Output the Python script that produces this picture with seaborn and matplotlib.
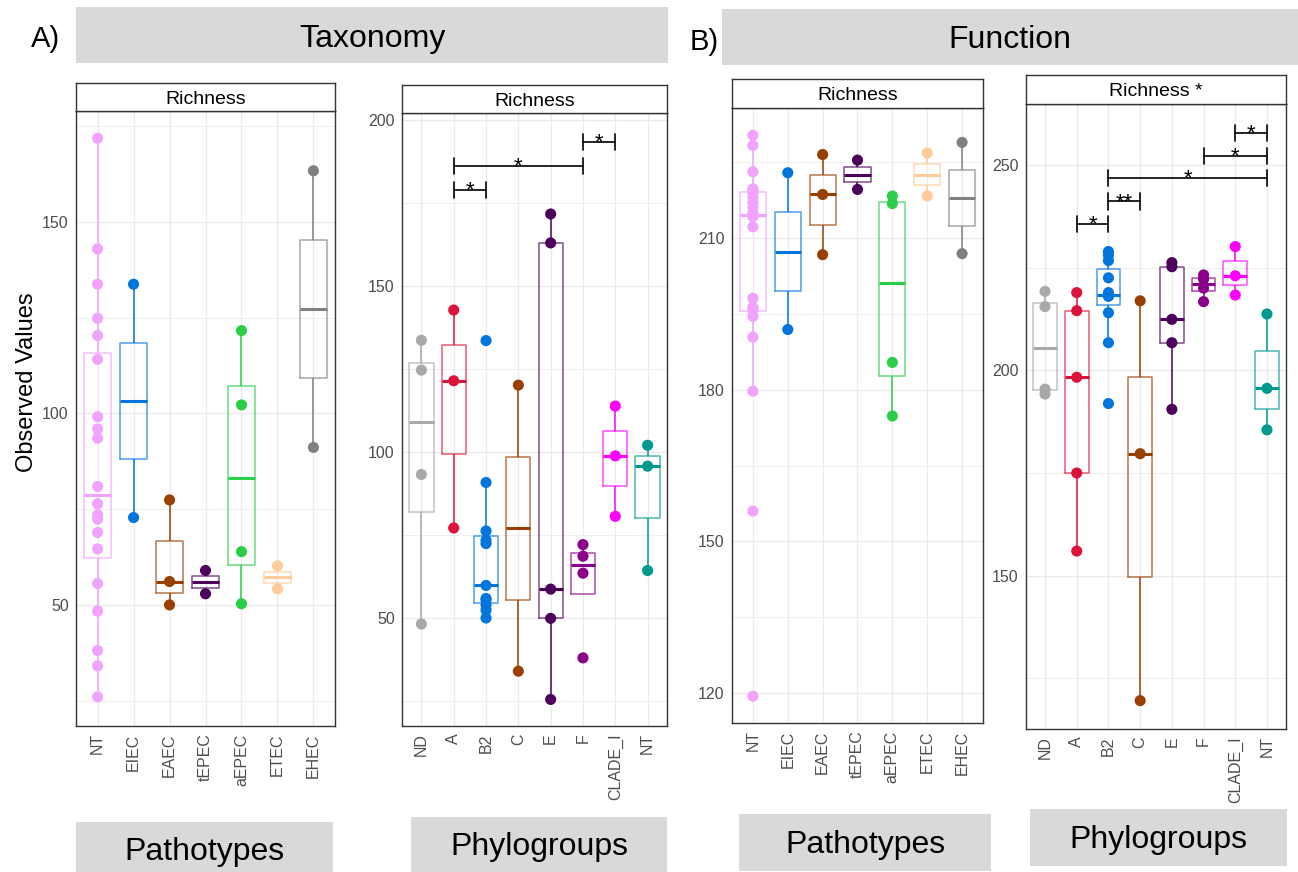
import matplotlib
matplotlib.use("Agg")
import matplotlib.pyplot as plt
from matplotlib.patches import Rectangle
import pandas as pd
import seaborn as sns

W, H = 1298, 872

# ---------------------------------------------------------------- categories
pathotypes = ["NT", "EIEC", "EAEC", "tEPEC", "aEPEC", "ETEC", "EHEC"]
phylogroups = ["ND", "A", "B2", "C", "E", "F", "CLADE_I", "NT"]

pathotype_colors = ["#F0A3FF", "#0075DC", "#993F00", "#4C005C",
                    "#2BCE48", "#FFCC99", "#808080"]
phylogroup_colors = ["#A9A9A9", "#DC143C", "#0075DC", "#993F00",
                     "#4C005C", "#8B008B", "#FF00FF", "#00998F"]

# ---------------------------------------------------------------- richness
tax_pathotype_richness = {
    "NT": [26.0, 34.1, 38.1, 48.4, 55.6, 64.6, 68.9, 72.4, 73.5, 76.4,
           80.9, 93.5, 95.9, 99.1, 114.1, 120.3, 124.8, 133.7, 142.9, 171.8],
    "EIEC": [72.8, 103.2, 133.7],
    "EAEC": [50.0, 56.1, 77.4],
    "tEPEC": [52.9, 59.0],
    "aEPEC": [50.3, 63.9, 102.2, 121.6],
    "ETEC": [54.2, 60.2],
    "EHEC": [91.1, 127.2, 163.3],
}
tax_phylogroup_richness = {
    "ND": [48.3, 93.3, 124.7, 133.7],
    "A": [77.2, 121.5, 142.8],
    "B2": [50.1, 52.5, 54.0, 55.5, 56.0, 59.9, 72.5, 73.5, 76.3, 90.9, 133.6],
    "C": [34.1, 77.2, 120.2],
    "E": [25.6, 50.0, 58.8, 163.0, 171.7],
    "F": [38.1, 63.6, 68.7, 72.2],
    "CLADE_I": [80.7, 98.9, 113.9],
    "NT": [64.4, 95.8, 102.1],
}
func_pathotype_richness = {
    "NT": [119.4, 156.0, 179.7, 190.4, 194.5, 195.8, 196.3, 198.1, 212.2, 214.2,
           215.0, 216.0, 217.0, 218.0, 218.9, 219.4, 219.7, 223.1, 228.3, 230.3],
    "EIEC": [191.9, 207.2, 222.9],
    "EAEC": [206.7, 218.6, 226.5],
    "tEPEC": [219.6, 225.4],
    "aEPEC": [174.8, 185.4, 216.8, 218.3],
    "ETEC": [218.3, 226.8],
    "EHEC": [206.9, 217.9, 228.9],
}
func_phylogroup_richness = {
    "ND": [194.2, 195.4, 215.5, 219.2],
    "A": [156.0, 175.0, 198.3, 214.5, 218.9],
    "B2": [191.9, 206.7, 214.0, 218.0, 218.1, 218.3, 218.9, 222.5, 226.7, 228.0, 228.9],
    "C": [119.6, 179.7, 216.9],
    "E": [190.5, 206.7, 212.4, 225.2, 226.2],
    "F": [216.7, 220.0, 222.2, 223.2],
    "CLADE_I": [218.3, 223.0, 230.1],
    "NT": [185.5, 195.6, 213.7],
}

# isolates that enter the box statistics but carry no point marker
tax_pathotype_unmarked = {"EIEC": [103.2], "EHEC": [127.2]}
tax_phylogroup_unmarked = {"C": [77.2]}
func_pathotype_unmarked = {"EIEC": [207.2], "EHEC": [217.9]}
func_phylogroup_unmarked = {}

# pairwise tests: (group 1, group 2, bracket height, significance)
tax_phylogroup_tests = [("A", "B2", 178.9, "*"),
                        ("A", "F", 186.2, "*"),
                        ("F", "CLADE_I", 193.5, "*")]
func_phylogroup_tests = [("A", "B2", 235.6, "*"),
                         ("B2", "C", 241.1, "**"),
                         ("B2", "NT", 246.8, "*"),
                         ("F", "NT", 252.2, "*"),
                         ("CLADE_I", "NT", 257.7, "*")]

# ---------------------------------------------------------------- style
sns.set_style("white")
plt.rcParams["font.family"] = ["Liberation Sans", "DejaVu Sans"]
plt.rcParams["text.color"] = "black"

fig = plt.figure(figsize=(W / 100, H / 100), dpi=100)


def frac_rect(x0, y0, x1, y1):
    return [x0 / W, 1 - y1 / H, (x1 - x0) / W, (y1 - y0) / H]


def long_table(values, skip=None):
    rows = []
    for grp, vals in values.items():
        hidden = list((skip or {}).get(grp, []))
        for v in vals:
            if v in hidden:
                hidden.remove(v)
                continue
            rows.append((grp, v))
    return pd.DataFrame(rows, columns=["group", "richness"])


def draw_panel(rect, strip_top, cats, colors, values, unmarked, ylim,
               major, minor, strip_label, tests=None):
    x0, y0, x1, y1 = rect
    ax = fig.add_axes(frac_rect(x0, y0, x1, y1))
    pal = dict(zip(cats, colors))

    sns.boxplot(data=long_table(values), x="group", y="richness", hue="group",
                order=cats, hue_order=cats, palette=pal, saturation=1,
                fill=False, width=0.75, linewidth=1.1, whis=1.5,
                showfliers=False, showcaps=False, legend=False, ax=ax,
                boxprops=dict(alpha=0.7), medianprops=dict(linewidth=2.2))
    sns.stripplot(data=long_table(values, unmarked), x="group", y="richness",
                  hue="group", order=cats, hue_order=cats, palette=pal,
                  jitter=False, size=8.0, linewidth=0, legend=False, ax=ax,
                  zorder=4)

    ax.set_xlim(-0.6, len(cats) - 0.4)
    ax.set_ylim(*ylim)
    ax.set_yticks(major)
    ax.set_yticks(minor, minor=True)
    ax.set_xticks(range(len(cats)))
    ax.set_xticklabels(cats, rotation=90, va="top", ha="center")
    ax.grid(True, which="major", color="#EBEBEB", linewidth=1.0)
    ax.grid(True, which="minor", axis="y", color="#EBEBEB", linewidth=0.6)
    ax.set_axisbelow(True)
    ax.tick_params(axis="both", which="major", length=2.8, width=0.8,
                   color="#333333", labelcolor="#4D4D4D", labelsize=11.5,
                   pad=2.5)
    ax.tick_params(which="minor", length=0)
    ax.set_xlabel("")
    ax.set_ylabel("")
    for sp in ax.spines.values():
        sp.set_visible(True)
        sp.set_color("#333333")
        sp.set_linewidth(1.0)

    if tests:
        tip = 0.013 * (ylim[1] - ylim[0])
        for g1, g2, y, lab in tests:
            i1, i2 = cats.index(g1), cats.index(g2)
            ax.plot([i1, i2], [y, y], color="black", lw=1.2, zorder=5)
            for i in (i1, i2):
                ax.plot([i, i], [y - tip, y + tip], color="black", lw=1.2,
                        zorder=5)
            ax.annotate(lab, ((i1 + i2) / 2, y), xytext=(0, -4.6),
                        textcoords="offset points", ha="center",
                        va="baseline", fontsize=16, zorder=6)

    # facet strip
    sax = fig.add_axes(frac_rect(x0, strip_top, x1, y0))
    sax.set_xticks([])
    sax.set_yticks([])
    sax.set_facecolor("white")
    for sp in sax.spines.values():
        sp.set_visible(True)
        sp.set_color("#333333")
        sp.set_linewidth(1.0)
    baseline = (strip_top + y0) / 2 + 7
    fig.text((x0 + x1) / 2 / W, 1 - baseline / H, strip_label,
             ha="center", va="baseline", fontsize=14)
    return ax


draw_panel((76, 111, 335, 726), 83, pathotypes, pathotype_colors,
           tax_pathotype_richness, tax_pathotype_unmarked, (18.4, 178.9),
           [50, 100, 150], [25, 75, 125, 175], "Richness")
draw_panel((402, 113, 667, 726), 85, phylogroups, phylogroup_colors,
           tax_phylogroup_richness, tax_phylogroup_unmarked, (17.6, 202.1),
           [50, 100, 150, 200], [25, 75, 125, 175], "Richness",
           tests=tax_phylogroup_tests)
draw_panel((732, 108, 983, 723), 79, pathotypes, pathotype_colors,
           func_pathotype_richness, func_pathotype_unmarked, (114.1, 235.7),
           [120, 150, 180, 210], [135, 165, 195, 225], "Richness")
draw_panel((1026, 104, 1286, 729), 75, phylogroups, phylogroup_colors,
           func_phylogroup_richness, func_phylogroup_unmarked, (112.7, 264.8),
           [150, 200, 250], [125, 175, 225], "Richness *",
           tests=func_phylogroup_tests)

fig.text(27 / W, 1 - 382 / H, "Observed Values", rotation=90,
         ha="center", va="center", fontsize=17)

# ---------------------------------------------------------------- banners
banners = [
    ((76, 7, 668, 63), "Taxonomy", 46.7),
    ((722, 9, 1298, 65), "Function", 48.0),
    ((76, 822, 333, 872), "Pathotypes", 860.0),
    ((411, 817, 667, 872), "Phylogroups", 855.0),
    ((739, 814, 991, 871), "Pathotypes", 853.0),
    ((1030, 809, 1287, 866), "Phylogroups", 848.0),
]
for (bx0, by0, bx1, by1), label, base in banners:
    fig.add_artist(Rectangle((bx0 / W, 1 - by1 / H), (bx1 - bx0) / W,
                             (by1 - by0) / H, transform=fig.transFigure,
                             facecolor="#D9D9D9", edgecolor="none", zorder=0))
    fig.text((bx0 + bx1) / 2 / W, 1 - base / H, label, ha="center",
             va="baseline", fontsize=23)

fig.text(31 / W, 1 - 47 / H, "A)", ha="left", va="baseline", fontsize=21)
fig.text(690 / W, 1 - 50 / H, "B)", ha="left", va="baseline", fontsize=21)

fig.savefig("out.png", dpi=100)
